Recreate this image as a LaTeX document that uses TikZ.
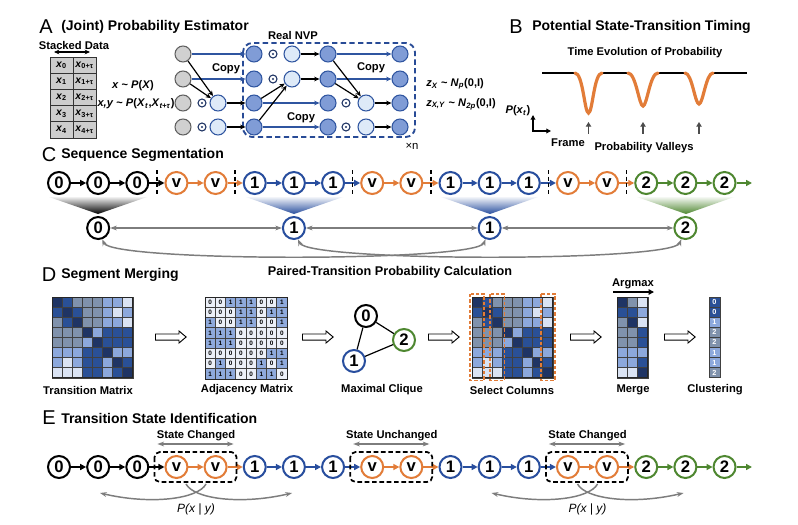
\documentclass[tikz,border=0pt]{standalone}
\usepackage{fontspec}
\setmainfont{Liberation Sans}
\usetikzlibrary{arrows.meta,shapes.arrows,calc}
\definecolor{cOr}{RGB}{226,124,56}
\definecolor{cBl}{RGB}{40,78,158}
\definecolor{cGr}{RGB}{78,135,48}
\definecolor{cGy}{RGB}{125,125,125}
\definecolor{cN}{RGB}{31,52,100}
\definecolor{cD}{RGB}{42,80,150}
\definecolor{cG}{RGB}{128,146,172}
\definecolor{cL}{RGB}{140,168,220}
\definecolor{cW}{RGB}{218,227,243}
\definecolor{nvpD}{RGB}{128,156,214}
\definecolor{nvpL}{RGB}{222,234,248}
\definecolor{nvpE}{RGB}{47,85,160}
\definecolor{nvpB}{RGB}{40,75,150}
\definecolor{gyF}{RGB}{208,208,208}
\definecolor{gyE}{RGB}{95,95,95}
\definecolor{adj1}{RGB}{143,170,220}
\definecolor{adj0}{RGB}{236,240,248}
\definecolor{tblF}{RGB}{205,205,205}
\tikzset{
  plet/.style={font=\fontsize{15}{15}\selectfont, inner sep=0pt},
  ttl/.style={font=\fontsize{10.5}{12}\selectfont\bfseries, anchor=west, inner sep=0pt},
  lbl/.style={font=\fontsize{8.4}{10}\selectfont\bfseries, inner sep=0pt},
  sn/.style={circle, draw, line width=1.5pt, minimum size=16.5pt, inner sep=0pt, fill=white, font=\fontsize{12.5}{12.5}\selectfont\bfseries},
  seqarr/.style={line width=1.3pt, -{Triangle[length=4.5pt,width=4.5pt]}},
  sepl/.style={black, line width=1.2pt, dash pattern=on 3pt off 2pt},
  grarr/.style={cGy, line width=1.1pt, {Stealth[length=5pt,width=3.6pt]}-{Stealth[length=5pt,width=3.6pt]}},
  grone/.style={cGy, line width=1.1pt, -{Stealth[length=5pt,width=3.6pt]}},
  gcirc/.style={circle, draw=gyE, fill=gyF, line width=0.8pt, minimum size=12pt, inner sep=0pt},
  lcirc/.style={circle, draw=nvpE, fill=nvpL, line width=0.8pt, minimum size=12pt, inner sep=0pt},
  dcirc/.style={circle, draw=nvpE, fill=nvpD, line width=0.8pt, minimum size=12pt, inner sep=0pt},
  odotn/.style={circle, draw=cN, line width=0.8pt, minimum size=6pt, inner sep=0pt, path picture={\fill[cN] (path picture bounding box.center) circle (0.9pt);}},
  barr/.style={black, line width=0.9pt, -{Stealth[length=4pt,width=3.5pt]}},
  blarr/.style={nvpE, line width=0.9pt, -{Stealth[length=4pt,width=3.5pt]}},
  hol/.style={single arrow, draw=black, fill=white, line width=0.7pt, minimum height=23pt, minimum width=9pt, single arrow head extend=2.2pt, single arrow tip angle=80, inner xsep=0pt, inner ysep=1.9pt},
  dbox/.style={black, line width=1.3pt, dash pattern=on 3.5pt off 2pt, rounded corners=4pt},
  odash/.style={cOr, line width=1.2pt, dash pattern=on 2.5pt off 1.5pt},
  cell/.style={draw=black!75, line width=0.4pt},
  eqn/.style={font=\fontsize{8.3}{10}\selectfont\bfseries, inner sep=0pt},
  tcell/.style={draw=black!80, fill=tblF, line width=0.6pt, inner sep=0pt, font=\fontsize{7.8}{9}\selectfont\bfseries},
}
\def\Tmat{{N,D,G,G,G,L,L,W},{D,N,D,G,G,L,W,L},{G,D,N,G,G,L,L,W},{G,G,G,N,L,D,D,D},{G,G,G,L,N,D,D,D},{L,L,L,D,D,N,L,L},{L,W,L,D,D,L,N,D},{W,W,W,D,D,L,D,N}}
\def\Amat{{0,0,1,1,1,0,0,1},{0,0,0,1,1,0,1,1},{1,0,0,1,1,0,0,1},{1,1,1,0,0,0,0,0},{1,1,1,0,0,0,0,0},{0,0,0,0,0,0,1,1},{0,1,0,0,0,1,0,1},{1,1,1,0,0,1,1,0}}
\def\Mmat{{N,G,W},{D,D,L},{G,N,W},{G,G,D},{G,G,D},{L,L,L},{L,L,D},{W,W,N}}
\begin{document}
\begin{tikzpicture}[x=0.75pt,y=-0.75pt]
\useasboundingbox[fill=white] (0,0) rectangle (798,524);

% ---------------- Panel A ----------------
\node[plet] (pA) at (46,27) {A};
\node[ttl] (tA) at (61,27) {(Joint) Probability Estimator};
\node[font=\fontsize{8.4}{10}\selectfont\bfseries, inner sep=0pt] (sd) at (74,45) {Stacked Data};
\coordinate (sdl) at (54,52);
\coordinate (sdr) at (90,52);
\draw[black, line width=0.9pt, {Stealth[length=4pt,width=3.5pt]}-{Stealth[length=4pt,width=3.5pt]}] (sdl) -- (sdr);
\foreach \k in {0,...,4}{
  \node[tcell, minimum width=17.3pt, minimum height=12.1pt] (ta\k) at (61.5,{65.1+16.2*\k}) {\textit{x}\textsubscript{\k}};
  \node[tcell, minimum width=17.3pt, minimum height=12.1pt] (tb\k) at (84.5,{65.1+16.2*\k}) {\textit{x}\textsubscript{\k+τ}};
}
\node[eqn] (eq1) at (133,86) {\textit{x} \textasciitilde{} \textit{P}(\textit{X})};
\node[eqn] (eq2) at (136,104) {\textit{x,y} \textasciitilde{} \textit{P}(\textit{X}\textsubscript{\textit{t}},\textit{X}\textsubscript{\textit{t+τ}})};

% Real NVP box
\draw[nvpB, line width=1.4pt, dash pattern=on 4pt off 2.5pt, rounded corners=7pt] (243,43) rectangle (415,137);
\node[lbl] (rnvp) at (293,35) {Real NVP};
\node[font=\fontsize{8.5}{10}\selectfont, inner sep=0pt] (xn) at (412,146) {×n};

\foreach \k/\yy in {1/54,2/79,3/103,4/127}{
  \node[gcirc] (ga\k) at (183,\yy) {};
  \node[dcirc] (da\k) at (254,\yy) {};
  \node[dcirc] (db\k) at (328,\yy) {};
  \node[dcirc] (dc\k) at (400,\yy) {};
}
\foreach \k/\yy in {3/103,4/127}{
  \node[odotn] (oa\k) at (202,\yy) {};
  \node[lcirc] (la\k) at (218,\yy) {};
  \node[odotn] (oc\k) at (346,\yy) {};
  \node[lcirc] (lc\k) at (366,\yy) {};
}
\foreach \k/\yy in {1/54,2/79}{
  \node[odotn] (ob\k) at (273,\yy) {};
  \node[lcirc] (lb\k) at (292,\yy) {};
}
\draw[blarr] (ga1) -- (da1);
\draw[blarr] (ga2) -- (da2);
\draw[barr] (ga1) -- (la3);
\draw[barr] (ga2) -- (la3);
\draw[barr] (la3) -- (da3);
\draw[barr] (la4) -- (da4);
\draw[barr] (lb1) -- (db1);
\draw[barr] (lb2) -- (db2);
\draw[blarr] (da3) -- (db3);
\draw[blarr] (da4) -- (db4);
\draw[barr] (da3) -- (lb2);
\draw[barr] (da4) -- (lb2);
\draw[blarr] (db1) -- (dc1);
\draw[blarr] (db2) -- (dc2);
\draw[barr] (db1) -- (lc3);
\draw[barr] (db2) -- (lc3);
\draw[barr] (lc3) -- (dc3);
\draw[barr] (lc4) -- (dc4);
\node[lbl] (cp1) at (226,69) {Copy};
\node[lbl] (cp2) at (301,118) {Copy};
\node[lbl] (cp3) at (371,68) {Copy};
\node[eqn, anchor=west] (z1) at (426,84) {\textit{z}\textsubscript{\textit{X}} \textasciitilde{} \textit{N}\textsubscript{\textit{p}}(0,I)};
\node[eqn, anchor=west] (z2) at (426,104) {\textit{z}\textsubscript{\textit{X,Y}} \textasciitilde{} \textit{N}\textsubscript{\textit{2p}}(0,I)};

% ---------------- Panel B ----------------
\node[plet] (pB) at (516,27) {B};
\node[ttl] (tB) at (532,27) {Potential State-Transition Timing};
\node[lbl] (teop) at (645,53) {Time Evolution of Probability};
\draw[black, line width=0.9pt] (542,73) -- (575,73) (602,73) -- (628,73) (658,73) -- (685,73) (713,73) -- (747,73);
\draw[cOr, line width=2.4pt, line cap=round] (575,73) .. controls (583,73) and (584.5,113) .. (588.5,113) .. controls (592.5,113) and (594,73) .. (602,73);
\draw[cOr, line width=2.4pt, line cap=round] (628,73) .. controls (636,73) and (639,106) .. (643,106) .. controls (647,106) and (650,73) .. (658,73);
\draw[cOr, line width=2.4pt, line cap=round] (685,73) .. controls (692,73) and (695,104) .. (699,104) .. controls (703,104) and (706,73) .. (713,73);
\foreach \xx [count=\k] in {588.5,643,699}{
  \coordinate (vb\k) at (\xx,134);
  \coordinate (vt\k) at (\xx,122);
  \draw[black!70, line width=1.4pt, -{Triangle[length=3.5pt,width=4pt]}] (vb\k) -- (vt\k);
}
\coordinate (ax0) at (533,131);
\coordinate (axy) at (533,115);
\coordinate (axx) at (551,131);
\draw[black, line width=1.3pt, {Triangle[length=3.5pt,width=3.5pt]}-{Triangle[length=3.5pt,width=3.5pt]}] (axy) -- (ax0) -- (axx);
\node[eqn] (pxt) at (518,111) {\textit{P}(\textit{x}\textsubscript{\textit{t}})};
\node[lbl] (frm) at (568,143) {Frame};
\node[lbl] (pv) at (644,148) {Probability Valleys};

% ---------------- Panel C ----------------
\node[plet] (pC) at (49,155) {C};
\node[ttl] (tC) at (61,155) {Sequence Segmentation};
\foreach \t/\cc [count=\i from 0] in {0/black,0/black,0/black,v/cOr,v/cOr,1/cBl,1/cBl,1/cBl,v/cOr,v/cOr,1/cBl,1/cBl,1/cBl,v/cOr,v/cOr,2/cGr,2/cGr,2/cGr}{
  \node[sn, draw=\cc] (c\i) at ({59+39.15*\i},183) {\t};
  \node[sn, draw=\cc] (e\i) at ({59+39.15*\i},467) {\t};
}
\foreach \cc [count=\i from 0] in {black,black,black,cOr,cOr,cBl,cBl,cBl,cOr,cOr,cBl,cBl,cBl,cOr,cOr,cGr,cGr}{
  \pgfmathtruncatemacro\j{\i+1}
  \draw[seqarr, color=\cc] (c\i) -- (c\j);
  \draw[seqarr, color=\cc] (e\i) -- (e\j);
}
\coordinate (cend) at (752,183);
\coordinate (eend) at (752,467);
\draw[seqarr, color=cGr] (c17) -- (cend);
\draw[seqarr, color=cGr] (e17) -- (eend);
\foreach \a/\b in {2/3,4/5,7/8,9/10,12/13,14/15}{
  \draw[sepl] ($(c\a)!0.5!(c\b)+(0,-13)$) -- ($(c\a)!0.5!(c\b)+(0,13)$);
}
% funnels
\shade[top color=black!6, bottom color=black] (49,197) -- (147,197) -- (98,214) -- cycle;
\shade[top color=cBl!6, bottom color=cBl] (246,197) -- (343,197) -- (294,214) -- cycle;
\shade[top color=cBl!6, bottom color=cBl] (441,197) -- (538,197) -- (490,214) -- cycle;
\shade[top color=cGr!6, bottom color=cGr] (637,197) -- (734,197) -- (686,214) -- cycle;
\node[sn, draw=black] (d0) at (98.15,228) {0};
\node[sn, draw=cBl] (d1) at (293.9,228) {1};
\node[sn, draw=cBl] (d2) at (489.65,228) {1};
\node[sn, draw=cGr] (d3) at (685.4,228) {2};
\draw[grarr] (d0) -- (d1);
\draw[grarr] (d1) -- (d2);
\draw[grarr] (d2) -- (d3);
\draw[grarr] (d0.-70) .. controls (112,262) and (476,262) .. (d2.-110);
\draw[grarr] (d1.-70) .. controls (308,262) and (672,262) .. (d3.-110);

% ---------------- Panel D ----------------
\node[plet] (pD) at (49,275) {D};
\node[ttl] (tD) at (61,275) {Segment Merging};
\node[font=\fontsize{9.5}{11}\selectfont\bfseries, inner sep=0pt] (ptpc) at (390,272) {Paired-Transition Probability Calculation};
% transition matrix & select columns
\foreach \row [count=\i from 0] in \Tmat {
  \foreach \cc [count=\j from 0] in \row {
    \filldraw[cell, fill=c\cc] ({52+10.1*\j},{297+10.1*\i}) rectangle ++(10.1,10.1);
    \filldraw[cell, fill=c\cc] ({472+10.1*\j},{297+10.1*\i}) rectangle ++(10.1,10.1);
  }
}
\draw[black!85, line width=0.7pt] (52,297) rectangle (132.8,377.8);
\draw[black!85, line width=0.7pt] (472,297) rectangle (552.8,377.8);
\node[inner sep=0pt, minimum size=60.6pt] (tm) at (92.4,337.4) {};
\node[inner sep=0pt, minimum size=60.6pt] (sc) at (512.4,337.4) {};
\foreach \j in {0,2,7}{
  \draw[odash] ({472+10.1*\j-2},294) rectangle ({472+10.1*(\j+1)+2},380.5);
}
% adjacency
\foreach \row [count=\i from 0] in \Amat {
  \foreach \v [count=\j from 0] in \row {
    \node[cell, fill=adj\v, minimum size=7.69pt, inner sep=0pt, font=\fontsize{4.8}{4.8}\selectfont\bfseries] at ({205+10.25*\j+5.125},{297+10.25*\i+5.125}) {\v};
  }
}
\draw[black!85, line width=0.7pt] (205,297) rectangle (287,379);
\node[inner sep=0pt, minimum size=61.5pt] (am) at (246,338) {};
% clique
\node[sn, draw=black] (q0) at (366,316) {0};
\node[sn, draw=cGr] (q2) at (404,340) {2};
\node[sn, draw=cBl] (q1) at (354,361) {1};
\draw[black, line width=0.9pt] (q0) -- (q1);
\draw[black, line width=0.9pt] (q0) -- (q2);
\draw[black, line width=0.9pt] (q1) -- (q2);
% merge
\foreach \row [count=\i from 0] in \Mmat {
  \foreach \cc [count=\j from 0] in \row {
    \filldraw[cell, fill=c\cc] ({617+10.3*\j},{297+10.1*\i}) rectangle ++(10.3,10.1);
  }
}
\draw[black!85, line width=0.7pt] (617,297) rectangle (647.9,377.8);
\node[inner sep=0pt, minimum width=23.2pt, minimum height=60.6pt] (mg) at (632.5,337.4) {};
\node[lbl] (amx) at (633,284) {Argmax};
\coordinate (amxl) at (613,292);
\coordinate (amxr) at (654,292);
\draw[black, line width=1.3pt, -{Triangle[length=4pt,width=4pt]}] (amxl) -- (amxr);
% clustering
\foreach \v/\cc [count=\i from 0] in {0/D,0/D,1/L,2/G,2/G,1/L,1/L,2/G}{
  \node[cell, fill=c\cc, minimum width=8.25pt, minimum height=7.58pt, inner sep=0pt, text=white, font=\fontsize{5.5}{5.5}\selectfont\bfseries] (k\i) at (714.5,{302+10.1*\i}) {\v};
}
\node[inner sep=0pt, minimum width=8.25pt, minimum height=60.6pt] (cl) at (714.5,337.4) {};
% hollow arrows
\node[hol] (h1) at (169,337) {};
\node[hol] (h2) at (316,337) {};
\node[hol] (h3) at (442,337) {};
\node[hol] (h4) at (584,337) {};
\node[hol] (h5) at (678,337) {};
% labels
\node[lbl] (lt) at (88,390) {Transition Matrix};
\node[lbl] (la) at (247,390) {Adjacency Matrix};
\node[lbl] (lq) at (382,390) {Maximal Clique};
\node[lbl] (ls) at (512,390) {Select Columns};
\node[lbl] (lm) at (633,390) {Merge};
\node[lbl] (lc) at (715,390) {Clustering};

% ---------------- Panel E ----------------
\node[plet] (pE) at (49,418) {E};
\node[ttl] (tE) at (61,418) {Transition State Identification};
\foreach \a/\b/\txt in {3/4/State Changed,8/9/State Unchanged,13/14/State Changed}{
  \draw[dbox] ($(e\a)+(-22,-15)$) rectangle ($(e\b)+(21,15)$);
  \node[lbl] at ($(e\a)!0.5!(e\b)+(0,-31)$) {\txt};
  \draw[grarr, line width=0.9pt] ($(e\a)+(-19,-23)$) -- ($(e\b)+(18,-23)$);
}
\foreach \a/\b [count=\k] in {3/4,13/14}{
  \coordinate (m\k) at ($(e\a)!0.5!(e\b)$);
  \draw[grone] ($(m\k)+(10,17)$) .. controls ($(m\k)+(2,32)$) and ($(m\k)+(-45,38)$) .. ($(m\k)+(-96,26)$);
  \draw[grone] ($(m\k)+(-10,17)$) .. controls ($(m\k)+(-2,32)$) and ($(m\k)+(45,38)$) .. ($(m\k)+(96,26)$);
  \node[font=\fontsize{9}{10}\selectfont\itshape, inner sep=0pt] at ($(m\k)+(0,42)$) {P(x | y)};
}
\end{tikzpicture}
\end{document}
